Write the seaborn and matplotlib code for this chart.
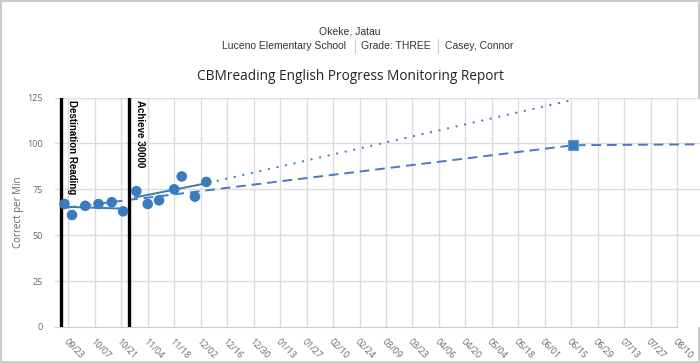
# library imports
import pandas as pd
import seaborn as sns
import matplotlib.pyplot as plt
import matplotlib.dates as mdates

# data
score_dates = ['2019-09-21', '2019-09-25', '2019-10-02', '2019-10-09', '2019-10-16', '2019-10-22',
               '2019-10-29', '2019-11-04', '2019-11-10', '2019-11-18', '2019-11-22', '2019-11-29',
               '2019-12-05']
score_values = [67, 61, 66, 67, 68, 63, 74, 67, 69, 75, 82, 71, 79]

trend1_dates = ['2019-09-20', '2019-10-22']
trend1_values = [65.5, 64.5]
trend2_dates = ['2019-10-28', '2019-12-06']
trend2_values = [70.5, 78.5]
projection_dates = ['2019-12-06', '2020-06-17']
projection_values = [78.5, 124]
aim_dates = ['2019-09-22', '2020-06-16', '2020-08-20']
aim_values = [65, 99, 99.5]
goal_dates = ['2020-06-16']
goal_values = [99]

intervention_dates = ['2019-09-19', '2019-10-25']
intervention_labels = ['Destination Reading', 'Achieve 30000']

tick_dates = ['2019-09-23', '2019-10-07', '2019-10-21', '2019-11-04', '2019-11-18', '2019-12-02',
              '2019-12-16', '2019-12-30', '2020-01-13', '2020-01-27', '2020-02-10', '2020-02-24',
              '2020-03-09', '2020-03-23', '2020-04-06', '2020-04-20', '2020-05-04', '2020-05-18',
              '2020-06-01', '2020-06-15', '2020-06-29', '2020-07-13', '2020-07-27', '2020-08-10']
tick_labels = ['09/23', '10/07', '10/21', '11/04', '11/18', '12/02', '12/16', '12/30', '01/13',
               '01/27', '02/10', '02/24', '03/09', '03/23', '04/06', '04/20', '05/04', '05/18',
               '06/01', '06/15', '06/29', '07/13', '07/27', '08/10']
y_ticks = [0, 25, 50, 75, 100, 125]

DOT = '#3a7bbf'
AIM = '#4a78c6'
GRID = '#dcdcdc'
TXT = '#666666'


def frame(dates, values):
    return pd.DataFrame({'date': pd.to_datetime(dates), 'value': values})


sns.set_style('white')
plt.rcParams['font.family'] = ['Open Sans', 'DejaVu Sans']

fig = plt.figure(figsize=(7, 3.63), dpi=100)
fig.patch.set_edgecolor('#cccccc')
fig.patch.set_linewidth(1.5)
ax = fig.add_axes([55 / 700, 36 / 363, 645 / 700, 229.5 / 363])

# grid
for d in tick_dates:
    ax.axvline(pd.Timestamp(d), color=GRID, lw=1, zorder=0)
for v in y_ticks[1:]:
    ax.axhline(v, color=GRID, lw=1, zorder=0)

# intervention lines
for d, lab in zip(intervention_dates, intervention_labels):
    ax.axvline(pd.Timestamp(d), color='black', lw=2.4, zorder=3)
    ax.annotate(lab, xy=(pd.Timestamp(d), 123.5), xytext=(4.5, 0), textcoords='offset points',
                rotation=-90, ha='left', va='top', fontsize=7, fontweight='bold',
                family='Liberation Sans', color='black', zorder=4)

# lines
sns.lineplot(data=frame(aim_dates, aim_values), x='date', y='value', ax=ax, color=AIM,
             lw=1.4, linestyle=(0, (5, 3)), zorder=2)
sns.lineplot(data=frame(projection_dates, projection_values), x='date', y='value', ax=ax,
             color=DOT, lw=1.4, linestyle=(0, (1, 3.5)), zorder=2)
sns.lineplot(data=frame(trend1_dates, trend1_values), x='date', y='value', ax=ax, color=DOT,
             lw=1.4, zorder=2)
sns.lineplot(data=frame(trend2_dates, trend2_values), x='date', y='value', ax=ax, color=DOT,
             lw=1.4, zorder=2)

# points
sns.scatterplot(data=frame(score_dates, score_values), x='date', y='value', ax=ax, color=DOT,
                s=58, edgecolor='none', zorder=5)
sns.scatterplot(data=frame(goal_dates, goal_values), x='date', y='value', ax=ax, color=DOT,
                marker='s', s=55, edgecolor='#6a9ad0', linewidth=0.8, zorder=5)

ax.set_xlim(pd.Timestamp('2019-09-16'), pd.Timestamp('2020-08-22'))
ax.set_ylim(0, 125)
ax.set_xticks([pd.Timestamp(d) for d in tick_dates])
ax.set_xticklabels(tick_labels, rotation=-45, ha='left', va='top', rotation_mode='anchor',
                   fontsize=6.5, color=TXT)
ax.set_yticks(y_ticks)
ax.set_yticklabels([str(v) for v in y_ticks], fontsize=6.5, color=TXT)
ax.tick_params(axis='x', length=4, color='#cccccc', pad=3)
ax.tick_params(axis='y', length=4, color='#cccccc', pad=5)
for side in ['top', 'right', 'left']:
    ax.spines[side].set_visible(False)
ax.spines['bottom'].set_color('#cccccc')
ax.spines['bottom'].set_bounds(mdates.date2num(pd.Timestamp('2019-09-16')),
                               mdates.date2num(pd.Timestamp('2020-08-10')))
ax.set_xlabel('')
ax.set_ylabel('Correct per Min', fontsize=7, color=TXT, labelpad=2)

# header
fig.text(0.5, 1 - 31 / 363, 'Okeke, Jatau', ha='center', va='center', fontsize=7.5,
         family='Liberation Sans', color='#333333')
fig.text(284 / 700, 1 - 46 / 363, 'Luceno Elementary School', ha='center', va='center',
         fontsize=7.5, family='Liberation Sans', color='#333333')
fig.text(396 / 700, 1 - 46 / 363, 'Grade: THREE', ha='center', va='center',
         fontsize=7.5, family='Liberation Sans', color='#333333')
fig.text(479 / 700, 1 - 46 / 363, 'Casey, Connor', ha='center', va='center',
         fontsize=7.5, family='Liberation Sans', color='#333333')
for sx in [355, 438]:
    fig.add_artist(plt.Line2D([sx / 700, sx / 700], [1 - 53 / 363, 1 - 39 / 363],
                              color='#cccccc', lw=0.8))
fig.text(0.5, 1 - 77 / 363, 'CBMreading English Progress Monitoring Report', ha='center',
         va='center', fontsize=9.8, color='#222222')

fig.savefig('out.png', dpi=100)
